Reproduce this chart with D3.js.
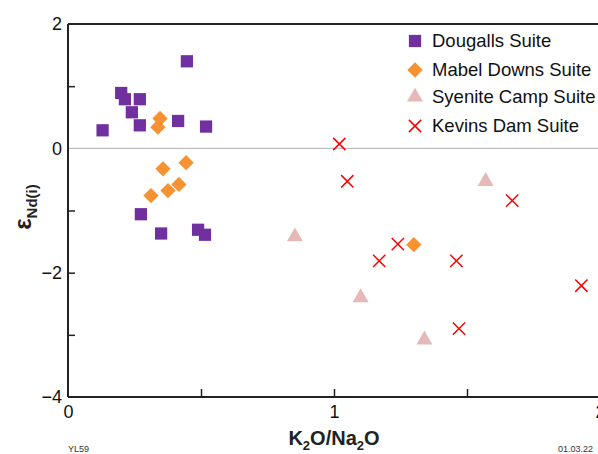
<!DOCTYPE html>
<html><head><meta charset="utf-8">
<script src="https://cdn.jsdelivr.net/npm/d3@7"></script>
<style>body{margin:0;background:#fff}svg{display:block;font-family:"Liberation Sans",Arial,sans-serif}</style>
</head><body><svg id="c" width="598" height="454"></svg>
<script>
const xTicks = [0, 1, 2];
const yTicks = [-4, -2, 0, 2];
const seriesNames = ["Dougalls Suite", "Mabel Downs Suite", "Syenite Camp Suite", "Kevins Dam Suite"];
const dougallsX = [0.13, 0.20, 0.214, 0.27, 0.24, 0.27, 0.447, 0.414, 0.519, 0.274, 0.35, 0.489, 0.515];
const dougallsY = [0.29, 0.89, 0.79, 0.79, 0.58, 0.37, 1.40, 0.44, 0.35, -1.06, -1.37, -1.31, -1.39];
const mabelX = [0.346, 0.338, 0.357, 0.444, 0.312, 0.376, 0.417, 1.30];
const mabelY = [0.48, 0.34, -0.33, -0.23, -0.76, -0.68, -0.58, -1.55];
const syeniteX = [0.853, 1.57, 1.10, 1.34];
const syeniteY = [-1.42, -0.53, -2.40, -3.08];
const kevinsX = [1.02, 1.05, 1.67, 1.24, 1.17, 1.46, 1.93, 1.47];
const kevinsY = [0.07, -0.53, -0.84, -1.54, -1.81, -1.81, -2.21, -2.90];

const svg = d3.select("#c");
const x = d3.scaleLinear().domain([0, 2]).range([68, 600]);
const y = d3.scaleLinear().domain([-4, 2]).range([397, 24]);

// zero line
svg.append("line").attr("x1", x(0)).attr("x2", 598).attr("y1", y(0)).attr("y2", y(0))
  .attr("stroke", "#b0b0b0").attr("stroke-width", 1);
// top border
svg.append("line").attr("x1", x(0)).attr("x2", 598).attr("y1", y(2)).attr("y2", y(2))
  .attr("stroke", "#222").attr("stroke-width", 2);

// axes
const xAxis = d3.axisBottom(x).tickValues([0, 0.5, 1, 1.5, 2]).tickSize(-8).tickFormat(d => xTicks.includes(d) ? d3.format("d")(d) : "");
const gx = svg.append("g").attr("transform", `translate(0,${y(-4)})`).call(xAxis);
gx.select(".domain").attr("stroke", "#222").attr("stroke-width", 2).attr("d", `M${x(0)},0H598`);
gx.selectAll(".tick line").attr("stroke", "#222").attr("stroke-width", 1.5);
gx.selectAll(".tick").filter(d => d === 0).select("line").remove();
gx.selectAll(".tick text").attr("font-size", 18).attr("fill", "#111").attr("dy", "1.0em").attr("font-family", "Liberation Sans, Arial, sans-serif");

const yAxis = d3.axisLeft(y).tickValues([-4, -3, -2, -1, 0, 1, 2]).tickSize(-7).tickFormat(d => yTicks.includes(d) ? d3.format("d")(d) : "");
const gy = svg.append("g").attr("transform", `translate(${x(0)},0)`).call(yAxis);
gy.select(".domain").attr("stroke", "#222").attr("stroke-width", 2).attr("d", `M0,${y(2)}V${y(-4)}`);
gy.selectAll(".tick line").attr("stroke", "#222").attr("stroke-width", 1.5);
gy.selectAll(".tick").filter(d => d === 0 || d === 2 || d === -4).select("line").remove();
gy.selectAll(".tick text").attr("font-size", 18).attr("fill", "#111").attr("x", -6).attr("font-family", "Liberation Sans, Arial, sans-serif");

// points
const sq = d3.symbol().type(d3.symbolSquare).size(150);
const dia = d3.symbol().type(d3.symbolDiamond2).size(150);
const tri = d3.symbol().type(d3.symbolTriangle).size(110);
const cross = d3.symbol().type(d3.symbolX).size(100);

function draw(xs, ys, sym, fill, stroke, sw) {
  svg.append("g").selectAll("path").data(xs.map((v, i) => [v, ys[i]])).join("path")
    .attr("transform", d => `translate(${x(d[0])},${y(d[1])})`)
    .attr("d", sym)
    .attr("fill", fill).attr("stroke", stroke).attr("stroke-width", sw);
}
draw(dougallsX, dougallsY, sq, "#7030a0", "none", 0);
draw(mabelX, mabelY, dia, "#f79232", "none", 0);
draw(syeniteX, syeniteY, tri, "#e6b8b7", "none", 0);
draw(kevinsX, kevinsY, cross, "none", "#ff0000", 1.5);

// legend
const legSyms = [sq, dia, tri, cross];
const legFill = ["#7030a0", "#f79232", "#e6b8b7", "none"];
const legStroke = ["none", "none", "none", "#ff0000"];
const legY = [41, 70, 97, 126];
seriesNames.forEach((n, i) => {
  svg.append("path").attr("transform", `translate(415,${legY[i]})`)
    .attr("d", legSyms[i]).attr("fill", legFill[i]).attr("stroke", legStroke[i]).attr("stroke-width", 1.5);
  svg.append("text").attr("x", 432).attr("y", legY[i]).attr("dy", "0.35em")
    .attr("font-size", 18.5).attr("fill", "#111").text(n);
});

// axis titles
const xt = svg.append("text").attr("x", 334).attr("y", 445).attr("text-anchor", "middle")
  .attr("font-size", 20).attr("font-weight", "bold").attr("fill", "#222");
xt.append("tspan").text("K");
xt.append("tspan").attr("font-size", 13).attr("dy", 5).text("2");
xt.append("tspan").attr("dy", -5).text("O/Na");
xt.append("tspan").attr("font-size", 13).attr("dy", 5).text("2");
xt.append("tspan").attr("dy", -5).text("O");

const yt = svg.append("text").attr("transform", "translate(31,207) rotate(-90)").attr("text-anchor", "middle")
  .attr("font-size", 24).attr("font-weight", "bold").attr("fill", "#222");
yt.append("tspan").text("ε");
yt.append("tspan").attr("font-size", 15).attr("dy", 6).text("Nd(i)");

svg.append("text").attr("x", 68).attr("y", 452).attr("font-size", 9).attr("fill", "#333").text("YL59");
svg.append("text").attr("x", 558).attr("y", 452).attr("font-size", 9).attr("fill", "#333").text("01.03.22");
</script></body></html>
